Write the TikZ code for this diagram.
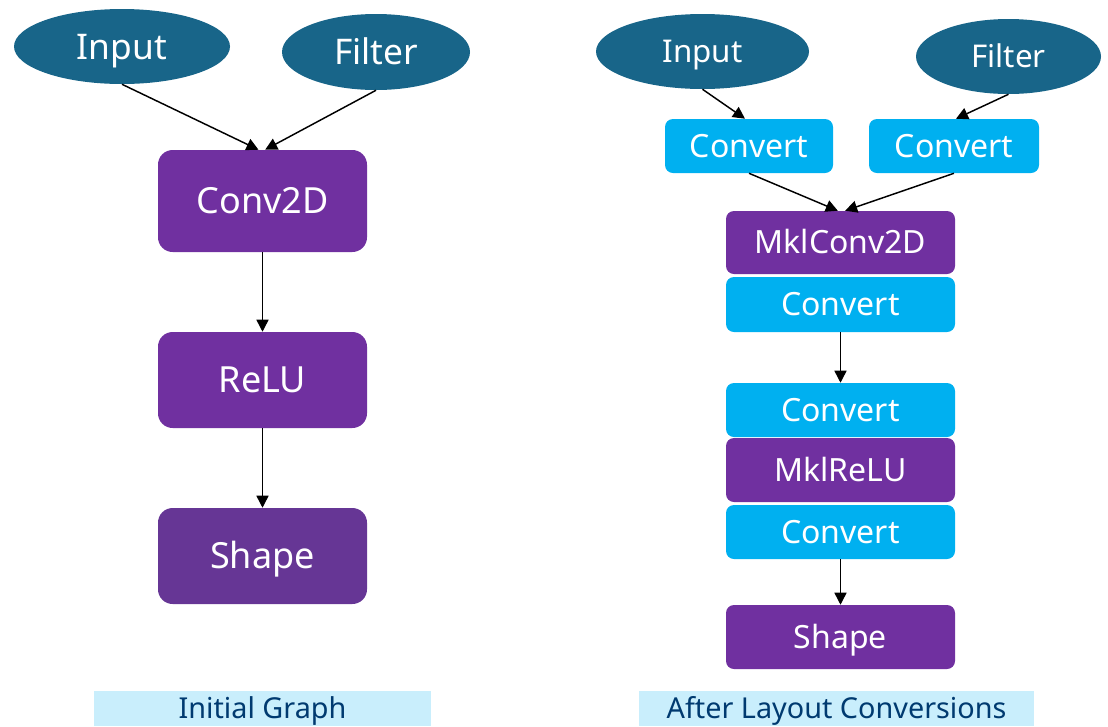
\documentclass[tikz,border=0pt]{standalone}
\usepackage{fontspec}
\setmainfont{Noto Sans}
\usetikzlibrary{shapes.geometric,arrows.meta}
\definecolor{ellblue}{HTML}{186589}
\definecolor{purp}{HTML}{7030A0}
\definecolor{purpb}{HTML}{663695}
\definecolor{cyanbox}{HTML}{00B0F0}
\definecolor{capbg}{HTML}{C9EEFC}
\definecolor{captext}{HTML}{003A70}
\newcommand{\fsz}[1]{\fontsize{#1}{#1}\selectfont}
\begin{document}
\begin{tikzpicture}[x=0.75pt,y=-0.75pt,
  fs/.style n args={2}{font=\fsz{#1}, text height=#2pt, text depth=0pt},
  txt/.style={inner sep=0pt, text=white},
  ell/.style={txt, ellipse, fill=ellblue},
  pbox/.style={txt, rectangle, rounded corners=11pt, fill=purp, fs={27}{19.3}},
  rpbox/.style={txt, rectangle, rounded corners=6pt, fill=purp, minimum width=171.75pt, fs={24}{17.1}},
  cbox/.style={txt, rectangle, rounded corners=6pt, fill=cyanbox, fs={24}{17.1}},
  capt/.style={rectangle, fill=capbg, text=captext, inner sep=0pt, fs={21.6}{15.4}},
  arr/.style={draw=black, line width=1.1pt, -{Triangle[length=9pt,width=9pt]}}]
\useasboundingbox (0,0) rectangle (1108,726);
% ---- left graph
\node[ell, minimum width=162pt, minimum height=56.25pt, fs={26.5}{18.9}] (lin) at (122,46.5) {Input};
\node[ell, minimum width=141pt, minimum height=57pt, fs={26.5}{18.9}] (lfil) at (376,52) {Filter};
\node[pbox, minimum width=156.75pt, minimum height=76.5pt] (lconv) at (262.5,201) {Conv2D};
\node[pbox, minimum width=156.75pt, minimum height=72pt] (lrelu) at (262.5,380) {ReLU};
\node[pbox, fill=purpb, minimum width=156.75pt, minimum height=72pt] (lshape) at (262.5,556) {Shape};
\draw[arr] (lin.south) -- ([xshift=-3pt]lconv.north);
\draw[arr] (lfil.south) -- ([xshift=2pt]lconv.north);
\draw[arr] (lconv.south) -- (lrelu.north);
\draw[arr] (lrelu.south) -- (lshape.north);
\node[capt, minimum width=252.75pt, minimum height=26.25pt] (lcap) at (262.5,708.5) {Initial Graph};
% ---- right graph
\node[ell, minimum width=159.75pt, minimum height=56.25pt, fs={23.5}{16.8}] (rin) at (702.5,51.5) {Input};
\node[ell, minimum width=138.75pt, minimum height=56.25pt, fs={23.5}{16.8}] (rfil) at (1008.5,56.5) {Filter};
\node[cbox, minimum width=126pt, minimum height=40.5pt] (cv1) at (749,146) {Convert};
\node[cbox, minimum width=127.5pt, minimum height=40.5pt] (cv2) at (954,146) {Convert};
\node[rpbox, minimum height=47.25pt] (mconv) at (840.5,242.5) {MklConv2D};
\node[cbox, minimum width=171.75pt, minimum height=41.25pt] (cv3) at (840.5,304.5) {Convert};
\node[cbox, minimum width=171.75pt, minimum height=40.5pt] (cv4) at (840.5,410) {Convert};
\node[rpbox, minimum height=48pt] (mrelu) at (840.5,470) {MklReLU};
\node[cbox, minimum width=171.75pt, minimum height=40.5pt] (cv5) at (840.5,532) {Convert};
\node[rpbox, minimum height=48pt] (rshape) at (840.5,637) {Shape};
\draw[arr] (rin.south) -- ([xshift=-3pt]cv1.north);
\draw[arr] (rfil.south) -- ([xshift=1.5pt]cv2.north);
\draw[arr] (cv1.south) -- ([xshift=-2pt]mconv.north);
\draw[arr] (cv2.south) -- ([xshift=3.5pt]mconv.north);
\draw[arr] (cv3.south) -- (cv4.north);
\draw[arr] (cv5.south) -- (rshape.north);
\node[capt, minimum width=296.25pt, minimum height=26.25pt] (rcap) at (836.5,708.5) {After Layout Conversions};
\end{tikzpicture}
\end{document}
